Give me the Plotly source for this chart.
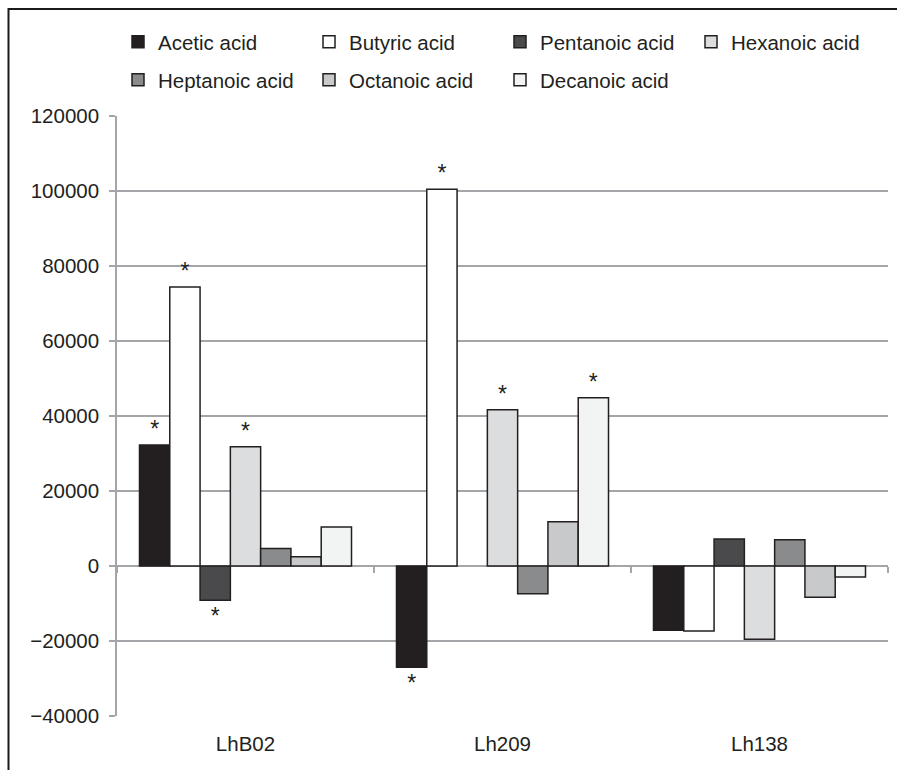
import plotly.graph_objects as go

categories = ["LhB02", "Lh209", "Lh138"]
series_names = ["Acetic acid", "Butyric acid", "Pentanoic acid", "Hexanoic acid",
                "Heptanoic acid", "Octanoic acid", "Decanoic acid"]
acetic = [32300, -27000, -17100]
butyric = [74400, 100500, -17300]
pentanoic = [-9100, None, 7200]
hexanoic = [31800, 41700, -19500]
heptanoic = [4700, -7400, 7000]
octanoic = [2500, 11800, -8300]
decanoic = [10400, 44900, -2900]
# significance markers (asterisks)
sig_acetic = ["*", "*", ""]
sig_butyric = ["*", "*", ""]
sig_pentanoic = ["*", "", ""]
sig_hexanoic = ["*", "*", ""]
sig_heptanoic = ["", "", ""]
sig_octanoic = ["", "", ""]
sig_decanoic = ["", "*", ""]
y_ticks = [-40000, -20000, 0, 20000, 40000, 60000, 80000, 100000, 120000]

values = [acetic, butyric, pentanoic, hexanoic, heptanoic, octanoic, decanoic]
sigs = [sig_acetic, sig_butyric, sig_pentanoic, sig_hexanoic, sig_heptanoic, sig_octanoic, sig_decanoic]
colors = ["#231f20", "#ffffff", "#4a4a4c", "#dcdddf", "#8a8b8d", "#c8c9cb", "#f2f3f3"]

FONT = "Liberation Sans, Arial, sans-serif"
TXT = "#231f20"
GRID = "#a3a5a8"
FS = 20.5

fig = go.Figure()
for i, (name, vals, sig, col) in enumerate(zip(series_names, values, sigs, colors)):
    fig.add_trace(go.Bar(
        x=categories, y=vals, name=name,
        marker=dict(color=col, line=dict(color="#231f20", width=1.5)),
        text=sig, textposition="outside", cliponaxis=False,
        textfont=dict(size=23, color=TXT, family=FONT),
        legend="legend" if i < 4 else "legend2",
    ))

fig.update_layout(
    width=897, height=770,
    margin=dict(l=117, r=9, t=116, b=54, autoexpand=False),
    paper_bgcolor="white", plot_bgcolor="white",
    barmode="group", bargap=0.175, bargroupgap=0,
    font=dict(family=FONT, size=FS, color=TXT),
    legend=dict(orientation="h", xref="container", yref="container",
                x=118 / 897, y=1 - 22 / 770, xanchor="left", yanchor="top",
                entrywidth=146, font=dict(size=FS, color=TXT), bgcolor="rgba(0,0,0,0)"),
    legend2=dict(orientation="h", xref="container", yref="container",
                 x=118 / 897, y=1 - 60 / 770, xanchor="left", yanchor="top",
                 entrywidth=146, font=dict(size=FS, color=TXT), bgcolor="rgba(0,0,0,0)"),
    xaxis=dict(type="category", showline=False, ticks="outside", ticklen=9,
               tickcolor="rgba(0,0,0,0)", showgrid=False, zeroline=False,
               tickfont=dict(size=FS, color=TXT)),
    xaxis2=dict(overlaying="x", anchor="free", position=0.25, range=[-0.5, 2.5],
                tickmode="array", tickvals=[-0.5, 0.5, 1.5, 2.5], ticks="outside",
                ticklen=6, tickwidth=1.5, tickcolor=GRID, showticklabels=False,
                showline=False, showgrid=False, zeroline=False),
    yaxis=dict(range=[-40000, 120000], tickmode="array", tickvals=y_ticks,
               tickformat="d", showgrid=True, gridcolor=GRID, gridwidth=1.5,
               zeroline=True, zerolinecolor=GRID, zerolinewidth=2,
               showline=True, linecolor=GRID, linewidth=1.5,
               ticks="outside", ticklen=6, tickwidth=1.5, tickcolor=GRID,
               ticklabelstandoff=6, tickfont=dict(size=FS, color=TXT)),
    showlegend=True,
    shapes=[dict(type="rect", xref="paper", yref="paper",
                 x0=(8.5 - 117) / 771, x1=1.2, y0=-0.3, y1=1 + (116 - 9) / 600,
                 line=dict(color="#1a1a1a", width=2), layer="below")],
)
fig.add_trace(go.Scatter(x=[None], y=[None], xaxis="x2", showlegend=False, hoverinfo="skip"))

fig.write_html("out.html")
